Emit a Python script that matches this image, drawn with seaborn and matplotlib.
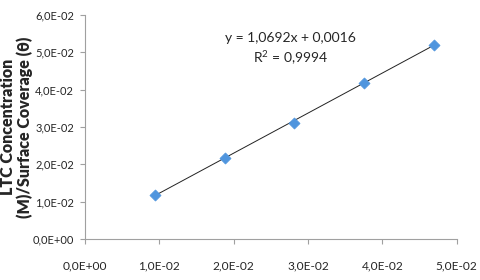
import numpy as np
import pandas as pd

import seaborn as sns
import matplotlib.pyplot as plt
from matplotlib.ticker import FuncFormatter


# data
conc = [0.0094, 0.0188, 0.0281, 0.0375, 0.0469]
ratio = [0.0118, 0.0218, 0.0312, 0.0417, 0.0521]
x_ticks = [0.0, 0.01, 0.02, 0.03, 0.04, 0.05]
y_ticks = [0.0, 0.01, 0.02, 0.03, 0.04, 0.05, 0.06]
eq_text = "y = 1,0692x + 0,0016"
r2_text = "R$^2$ = 0,9994"
y_label = "LTC Concentration\n(M)/Surface Coverage (\u03b8)"


def sci_comma(v, pos=None):
    s = "%.1E" % v
    return s.replace(".", ",")


sns.set_style("white")
plt.rcParams['font.family'] = ['Lato', 'DejaVu Sans']
plt.rcParams['mathtext.fontset'] = 'custom'
plt.rcParams['mathtext.rm'] = 'Lato'

df = pd.DataFrame({"conc": conc, "ratio": ratio})

fig = plt.figure(figsize=(4.81, 2.80), dpi=100)
ax = fig.add_axes([0.1767, 0.1464, 0.7725, 0.80])

# trendline
sns.regplot(data=df, x="conc", y="ratio", ax=ax, scatter=False, ci=None,
    truncate=True, line_kws={"color": "#222222", "lw": 0.7})
# points
sns.scatterplot(data=df, x="conc", y="ratio", ax=ax, marker="D", s=32,
    color="#4F95DE", edgecolor="#4F95DE", linewidth=0.5, zorder=3)

ax.set_xlim(0, 0.05)
ax.set_ylim(0, 0.06)
ax.set_xticks(x_ticks)
ax.set_yticks(y_ticks)
ax.xaxis.set_major_formatter(FuncFormatter(sci_comma))
ax.yaxis.set_major_formatter(FuncFormatter(sci_comma))
ax.tick_params(axis="x", direction="out", length=3.5, width=0.8,
    color="#A0A0A0", pad=12, labelsize=8.6)
ax.tick_params(axis="y", direction="out", length=3.5, width=0.8,
    color="#A0A0A0", pad=4.5, labelsize=8)
ax.tick_params(bottom=True, left=True)

for side in ["top", "right"]:
    ax.spines[side].set_visible(False)
for side in ["left", "bottom"]:
    ax.spines[side].set_color("#A0A0A0")
    ax.spines[side].set_linewidth(0.8)

ax.set_xlabel("")
ax.set_ylabel(y_label, fontsize=11.5, fontweight="heavy", labelpad=0,
    linespacing=1.0)

ax.text(0.552, 0.897, eq_text, transform=ax.transAxes, ha="center",
    va="center", fontsize=10)
ax.text(0.552, 0.808, r2_text, transform=ax.transAxes, ha="center",
    va="center", fontsize=10)

fig.savefig("out.png", dpi=100)
